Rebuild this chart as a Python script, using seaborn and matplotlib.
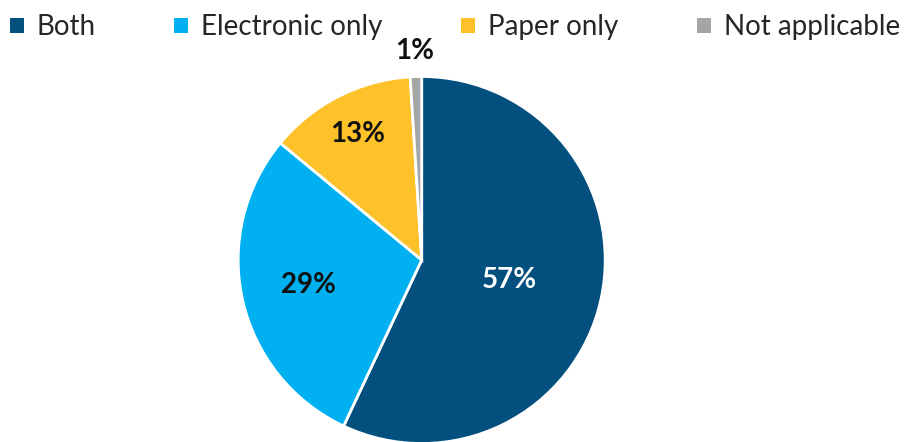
import numpy as np
import matplotlib
matplotlib.use("Agg")
import matplotlib.pyplot as plt
import seaborn as sns
from matplotlib.patches import Patch

# data
categories = ["Both", "Electronic only", "Paper only", "Not applicable"]
shares = [57, 29, 13, 1]
colors = ["#03507f", "#00b0f0", "#fdc12a", "#a5a5a5"]
label_colors = ["white", "#111111", "#111111", "#111111"]
label_dist = [0.49, 0.63, 0.77, 1.14]  # distance of each % label from the centre

sns.set_style("white")
plt.rcParams["font.family"] = ["Lato", "DejaVu Sans"]

fig = plt.figure(figsize=(9.06, 4.42), dpi=100)
ax = fig.add_axes([0.2629, -0.0034, 0.4051, 0.8303])

wedges, _ = ax.pie(shares, colors=colors, startangle=90, counterclock=False,
                   radius=1, wedgeprops=dict(edgecolor="white", linewidth=2))
ax.set_xlim(-1, 1)
ax.set_ylim(-1, 1)
ax.set_aspect("equal")
ax.axis("off")

# percentage labels, placed along each wedge's mid angle
for w, v, d, c in zip(wedges, shares, label_dist, label_colors):
    ang = np.deg2rad((w.theta1 + w.theta2) / 2)
    ax.text(d * np.cos(ang), d * np.sin(ang), f"{v}%", ha="center", va="center",
            fontsize=20, fontweight="bold", color=c, clip_on=False)

handles = [Patch(facecolor=c, edgecolor="none") for c in colors]
fig.legend(handles, categories, loc="center", bbox_to_anchor=(0.502, 0.938), ncol=4,
           frameon=False, fontsize=20, handlelength=0.5, handleheight=0.5,
           handletextpad=0.45, columnspacing=2.85, borderaxespad=0)

fig.savefig("out.png", dpi=100)
